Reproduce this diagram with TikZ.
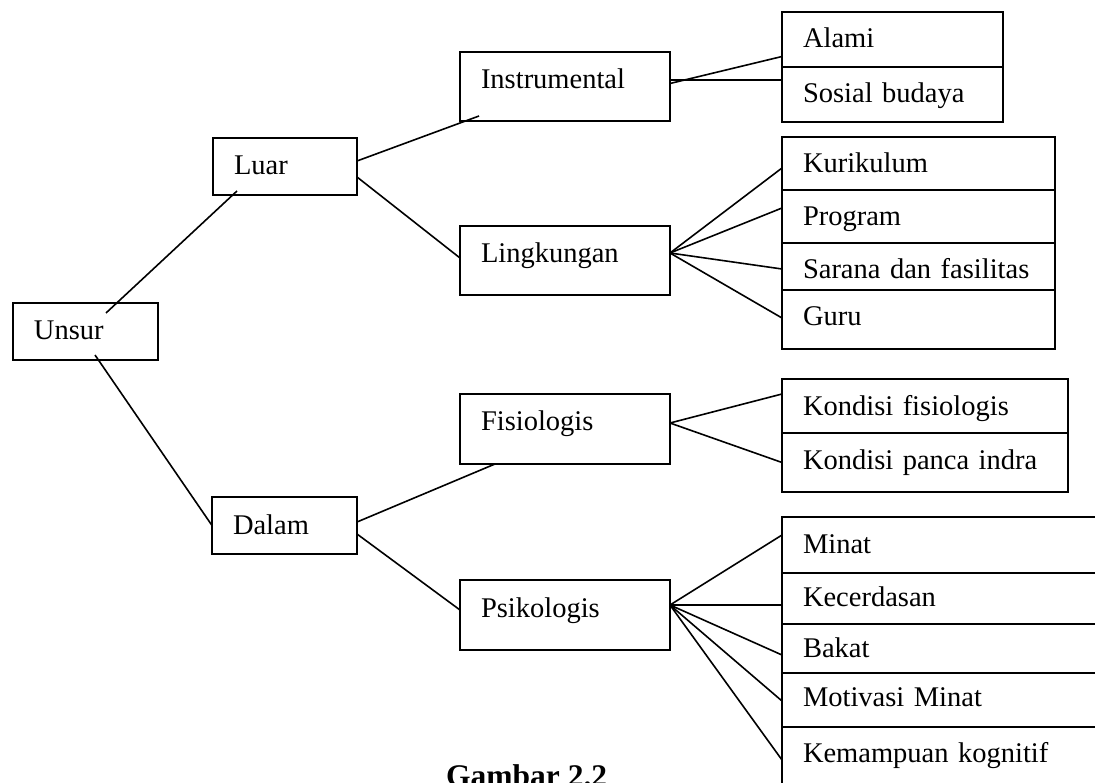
\documentclass[tikz,border=0pt]{standalone}
\usepackage{fontspec}
\setmainfont{Liberation Serif}
\usetikzlibrary{positioning, calc}
\tikzset{
  font=\fontsize{28.5}{34}\selectfont,
  unitbox/.style={draw=black, line width=1.8pt, anchor=north west, outer sep=0pt,
    inner xsep=21pt, inner ysep=0pt, text height=37pt, align=left, text width=#1},
  itembox/.style={unitbox=#1, text height=36pt},
  link/.style={draw=black, line width=1.6pt},
  captionlabel/.style={font=\bfseries\fontsize{31.5}{38}\selectfont, anchor=base west,
    inner sep=0pt},
}

\begin{document}
\begin{tikzpicture}[x=1pt, y=-1pt]

  \useasboundingbox (0,0) rectangle (1095,783);

  % ----------------------------------------------------------------
  % Root and first level
  % ----------------------------------------------------------------
  \node[unitbox=103pt, text depth=20pt] (unsur) at (13,303) {Unsur};
  \node[unitbox=102pt, text depth=20pt] (luar)  at (213,138) {Luar};
  \node[unitbox=103pt, text depth=20pt] (dalam) at (212,497) {Dalam};

  % ----------------------------------------------------------------
  % Second level
  % ----------------------------------------------------------------
  \node[unitbox=168pt, text depth=32pt] (instr) at (460,52)  {Instrumental};
  \node[unitbox=168pt, text depth=32pt] (lingk) at (460,226) {Lingkungan};
  \node[unitbox=168pt, text depth=33pt] (fisio) at (460,394) {Fisiologis};
  \node[unitbox=168pt, text depth=33pt] (psiko) at (460,580) {Psikologis};

  % ----------------------------------------------------------------
  % Leaves (stacked lists)
  % ----------------------------------------------------------------
  \node[itembox=179pt, text depth=19pt] (alami) at (782,12) {Alami};
  \node[itembox=179pt, text depth=19pt, below=0pt of alami] (sosial) {Sosial budaya};

  \node[itembox=231pt, text depth=17pt] (kurikulum) at (782,137) {Kurikulum};
  \node[itembox=231pt, text depth=17pt, below=0pt of kurikulum] (program) {Program};
  \node[itembox=231pt, text depth=11pt, below=0pt of program] (sarana) {Sarana dan fasilitas};
  \node[itembox=231pt, text depth=23pt, below=0pt of sarana] (guru) {Guru};

  \node[itembox=244pt, text depth=18pt] (kondfis) at (782,379) {Kondisi fisiologis};
  \node[itembox=244pt, text depth=23pt, below=0pt of kondfis] (panca) {Kondisi panca indra};

  \node[itembox=288pt, text depth=20pt] (minat) at (782,517) {Minat};
  \node[itembox=288pt, text height=33pt, text depth=18pt, below=0pt of minat] (cerdas) {Kecerdasan};
  \node[itembox=288pt, text height=33pt, text depth=16pt, below=0pt of cerdas] (bakat) {Bakat};
  \node[itembox=288pt, text height=33pt, text depth=21pt, below=0pt of bakat] (motivasi) {Motivasi Minat};
  \node[itembox=288pt, text height=35pt, text depth=45pt, below=0pt of motivasi] (kognitif) {Kemampuan kognitif};

  % ----------------------------------------------------------------
  % Connectors
  % ----------------------------------------------------------------
  \draw[link] ($(unsur.north west)+(93,10)$) -- ($(luar.south west)+(24,-4)$);
  \draw[link] ($(unsur.south west)+(82,-5)$) -- (dalam.west);

  \draw[link] ([yshift=5.5pt]luar.east) -- ($(instr.south west)+(19,-5)$);
  \draw[link] ([yshift=-10.5pt]luar.east) -- ([yshift=2.5pt]lingk.west);
  \draw[link] ([yshift=3.5pt]dalam.east) -- ($(fisio.south west)+(35,0)$);
  \draw[link] ([yshift=-8.5pt]dalam.east) -- ([yshift=5pt]psiko.west);

  \draw[link] ([yshift=3pt]instr.east) -- ([yshift=-17pt]alami.west);
  \draw[link] ([yshift=6.5pt]instr.east) -- ([yshift=14.5pt]sosial.west);

  \foreach \leaf/\dy in {kurikulum/-4.5, program/8.5, sarana/-2.5, guru/1.5}
    \draw[link] ([yshift=7.5pt]lingk.east) -- ([yshift=\dy pt]\leaf.west);

  \foreach \leaf/\dy in {kondfis/12, panca/0}
    \draw[link] ([yshift=6pt]fisio.east) -- ([yshift=\dy pt]\leaf.west);

  \foreach \leaf/\dy in {minat/10, cerdas/-6.5, bakat/-6.5, motivasi/-1, kognitif/7}
    \draw[link] ([yshift=10pt]psiko.east) -- ([yshift=\dy pt]\leaf.west);

  % ----------------------------------------------------------------
  % Caption
  % ----------------------------------------------------------------
  \node[captionlabel] (caption) at (446,786) {Gambar 2.2};

\end{tikzpicture}
\end{document}
